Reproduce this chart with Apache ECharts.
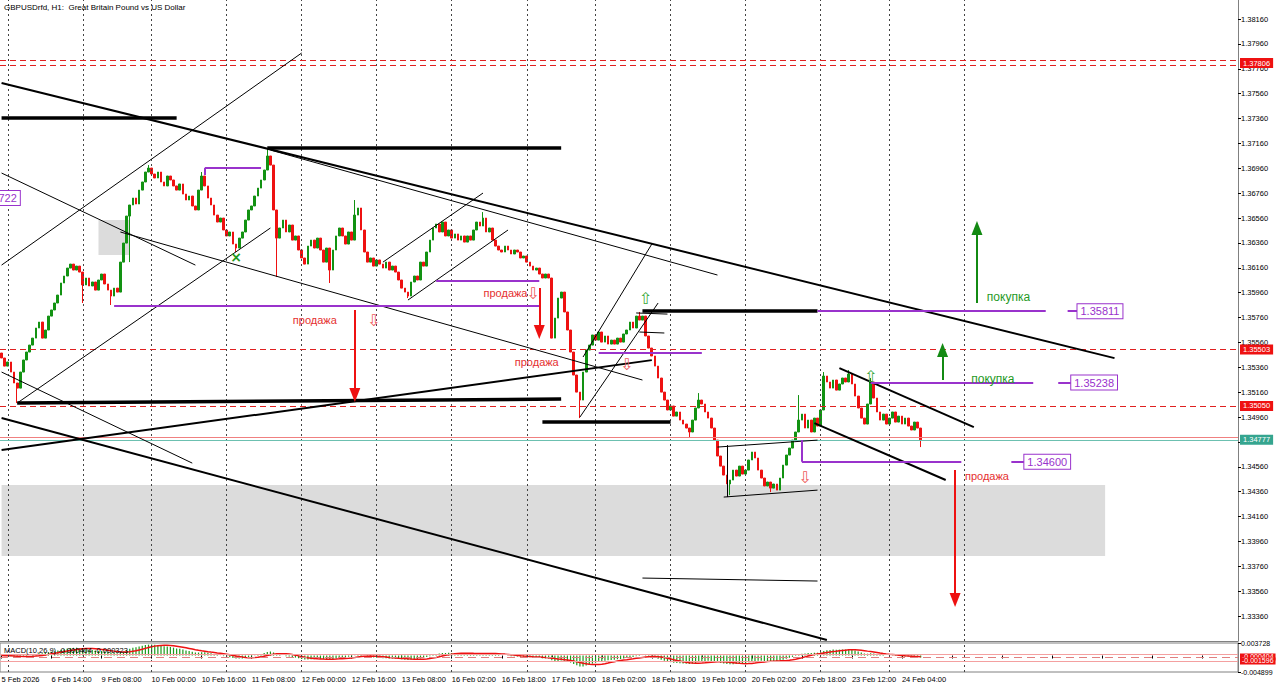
<!DOCTYPE html>
<html><head><meta charset="utf-8">
<script src="https://cdn.jsdelivr.net/npm/echarts@6/dist/echarts.min.js"></script>
<style>html,body{margin:0;padding:0;background:#fff}#c{width:1280px;height:688px}</style>
</head><body><div id="c"></div>
<script>
// ---------- text ----------
const titleText = 'GBPUSDrfd, H1:  Great Britain Pound vs US Dollar';
const macdTitle = 'MACD(10,26,9) -0.000404 -0.000323';
const firstLabel = '5 Feb 2026';
const monthNames = ['Jan','Feb','Mar','Apr','May','Jun','Jul','Aug','Sep','Oct','Nov','Dec'];
const sellText = 'продажа';
const buyText = 'покупка';

// ---------- price data (H1 closes) ----------
const firstOpen = 1.35475;
const closes = [
1.35435,1.35370,1.35403,1.35322,1.35234,1.35193,1.35322,1.35419,1.35483,1.35539,
1.35595,1.35676,1.35724,1.35595,1.35660,1.35772,1.35821,1.35877,1.35941,1.36038,
1.36094,1.36158,1.36190,1.36142,1.36174,1.36126,1.36022,1.36078,1.36014,1.36046,
1.35981,1.36062,1.36110,1.36030,1.35981,1.35933,1.35997,1.35965,1.36206,1.36359,
1.36576,1.36665,1.36721,1.36673,1.36785,1.36850,1.36930,1.36962,1.36914,1.36882,
1.36930,1.36850,1.36818,1.36898,1.36866,1.36818,1.36785,1.36834,1.36753,1.36705,
1.36737,1.36657,1.36625,1.36785,1.36898,1.36818,1.36721,1.36665,1.36584,1.36528,
1.36560,1.36464,1.36416,1.36448,1.36351,1.36319,1.36399,1.36448,1.36544,1.36625,
1.36657,1.36737,1.36801,1.36866,1.36946,1.37059,1.36986,1.36625,1.36399,1.36480,
1.36544,1.36448,1.36504,1.36383,1.36416,1.36303,1.36239,1.36190,1.36335,1.36383,
1.36319,1.36399,1.36303,1.36206,1.36319,1.36142,1.36303,1.36416,1.36480,1.36416,
1.36351,1.36448,1.36383,1.36584,1.36641,1.36464,1.36287,1.36206,1.36239,1.36174,
1.36223,1.36190,1.36158,1.36206,1.36142,1.36174,1.36126,1.36062,1.35997,1.35965,
1.35933,1.36046,1.36094,1.36062,1.36206,1.36174,1.36287,1.36383,1.36480,1.36512,
1.36448,1.36528,1.36416,1.36464,1.36399,1.36432,1.36383,1.36416,1.36367,1.36416,
1.36383,1.36464,1.36528,1.36496,1.36560,1.36448,1.36480,1.36383,1.36335,1.36303,
1.36287,1.36335,1.36303,1.36271,1.36303,1.36287,1.36239,1.36255,1.36206,1.36174,
1.36142,1.36158,1.36110,1.36078,1.36110,1.36078,1.35595,1.35756,1.35917,1.35965,
1.35805,1.35660,1.35483,1.35298,1.35161,1.35097,1.35322,1.35499,1.35539,1.35620,
1.35579,1.35644,1.35563,1.35612,1.35547,1.35579,1.35547,1.35595,1.35563,1.35628,
1.35660,1.35724,1.35676,1.35772,1.35740,1.35772,1.35612,1.35515,1.35451,1.35370,
1.35274,1.35161,1.35097,1.35017,1.35049,1.34968,1.35001,1.34936,1.34904,1.34872,
1.34840,1.34936,1.35033,1.35097,1.35065,1.35001,1.34952,1.34872,1.34775,1.34647,
1.34566,1.34494,1.34422,1.34454,1.34534,1.34486,1.34566,1.34502,1.34534,1.34615,
1.34679,1.34631,1.34534,1.34470,1.34406,1.34438,1.34389,1.34422,1.34373,1.34470,
1.34574,1.34655,1.34711,1.34775,1.34840,1.34936,1.34984,1.34872,1.34936,1.34840,
1.34952,1.34888,1.35017,1.35290,1.35242,1.35193,1.35258,1.35177,1.35226,1.35274,
1.35242,1.35306,1.35226,1.35129,1.35033,1.34952,1.34904,1.35065,1.35242,1.35113,
1.35001,1.34936,1.34984,1.34904,1.34952,1.35001,1.34920,1.34968,1.34904,1.34952,
1.34888,1.34856,1.34920,1.34872,1.34777
];
// notable wicks (bar index -> price)
const highWicks = {47:1.36986, 64:1.36930, 85:1.37123, 113:1.36705, 154:1.36608, 204:1.35805, 223:1.35153, 255:1.35137, 263:1.35322, 271:1.35338, 278:1.35274};
const lowWicks = {5:1.35073, 26:1.35877, 35:1.35861, 41:1.36206, 75:1.36287, 88:1.36086, 105:1.36038, 130:1.35917, 185:1.34952, 220:1.34800, 233:1.34333, 246:1.34357, 294:1.34719};

// ---------- axes ----------
const totalSlots = 396;            // bars + empty chart shift on the right
const priceMin = 1.33160, priceMax = 1.38313, priceStep = 0.002;
const macdMin = -0.004899, macdMax = 0.003728;
const gridBars = [2, 26, 48, 72, 96, 120, 144, 168, 190, 214, 238, 262, 284, 308];

// ---------- horizontal levels ----------
const redLevels = [
  {v:1.37826, label:null}, {v:1.37786, label:null}, {v:1.37806, label:'1.37806', hidden:true},
  {v:1.35503, label:'1.35503'}, {v:1.35050, label:'1.35050'}
];
const askLevel = 1.34800;
const bidLevel = 1.34777;
const macdLevels = [{v:0.000456, label:null, dash:false}, {v:-0.000404, label:'-0.000404', dash:true}, {v:-0.001596, label:'-0.001596', dash:false}];

// ---------- drawn objects (bar index, price) ----------
const thickLines = [
  [[0,1.37364],[56,1.37364]], [[85,1.37123],[179,1.37123]], [[5,1.35073],[179,1.35105]],
  [[173,1.34920],[214,1.34920]], [[205,1.35812],[261,1.35812]]
];
const mediumLines = [
  [[0,1.37646],[356,1.35434]], [[0,1.34695],[208,1.35418]], [[0,1.34952],[264,1.33168]],
  [[268,1.35354],[311,1.34880]], [[260,1.34912],[302,1.34454]]
];
const thinLines = [
  [[86,1.37107],[229,1.36102]], [[0,1.36182],[96,1.37887]], [[5,1.35073],[86,1.36480]],
  [[0,1.36922],[62,1.36182]], [[38,1.36448],[205,1.35258]], [[0,1.35322],[61,1.34590]],
  [[122,1.36206],[154,1.36761]], [[130,1.35901],[162,1.36464]], [[186,1.35443],[208,1.36351]],
  [[185,1.34960],[210,1.35877]], [[203,1.35797],[213,1.35788]], [[204,1.35644],[212,1.35636]],
  [[229,1.34719],[261,1.34775]], [[231,1.34317],[261,1.34373]], [[232,1.34735],[232,1.34317]],
  [[205,1.33666],[261,1.33642]]
];
const purpleLines = [
  [[65,1.36962],[83,1.36962]], [[65,1.36962],[65,1.36906]], [[36,1.35853],[172,1.35853]],
  [[139,1.36054],[172,1.36054]], [[191,1.35475],[224,1.35475]], [[261,1.35811],[334,1.35811]],
  [[341,1.35811],[344,1.35811]], [[278,1.35238],[330,1.35238]], [[338,1.35238],[342,1.35238]],
  [[256,1.34775],[256,1.34600]], [[256,1.34600],[307,1.34600]], [[323,1.34600],[327,1.34600]]
];
const priceBoxes = [[344,1.35811,'1.35811'],[342,1.35238,'1.35238'],[327,1.34600,'1.34600']];
const cutBox = [6,1.36721,'1.36722'];
const sellArrows = [[[113,1.35821],[113,1.35137]], [[172,1.35998],[172,1.35644]], [[305,1.34534],[305,1.33489]]];
const buyArrows = [[[312,1.35877],[312,1.36480]], [[301,1.35258],[301,1.35499]]];
const sellLabels = [[93,1.35740],[154,1.35957],[164,1.35403],[308,1.34486]];
const buyLabels = [[315,1.35925],[310,1.35266]];
const downMarks = [[119,1.35740],[170,1.35957],[200,1.35386],[257,1.34478]];
const upMarks = [[206,1.35917],[278,1.35290]];
const crossMark = [75,1.36247];
const grayZones = [[[0,1.34414],[353,1.33843]], [[31,1.36544],[41,1.36263]]];

// ---------- build ----------
const pad = n => (n < 10 ? '0' : '') + n;
const categories = [];
{
  let t = Date.UTC(2026, 1, 5, 22);
  while (categories.length < totalSlots) {
    const d = new Date(t), wd = d.getUTCDay(), h = d.getUTCHours();
    if ((wd >= 1 && wd <= 4) || (wd === 5 && h <= 21)) {
      categories.push(d.getUTCDate() + ' ' + monthNames[d.getUTCMonth()] + ' ' + pad(h) + ':00');
    }
    t += 3600000;
  }
}
const lastBar = closes.length - 1;
const ohlc = closes.map((c, i) => {
  const o = i ? closes[i - 1] : firstOpen;
  const h = highWicks[i] !== undefined ? highWicks[i] : Math.max(o, c);
  const l = lowWicks[i] !== undefined ? lowWicks[i] : Math.min(o, c);
  return [o, c, l, h];
});
// MACD(10,26,9) of the closes: EMA10 - EMA26, signal = SMA9
function ema(arr, n) { const k = 2 / (n + 1); let e = arr[0]; return arr.map((v, i) => (e = i ? v * k + e * (1 - k) : v)); }
const e10 = ema(closes, 10), e26 = ema(closes, 26);
const macdMain = closes.map((_, i) => e10[i] - e26[i]);
const macdSignal = macdMain.map((_, i) => { const s = Math.max(0, i - 8); const w = macdMain.slice(s, i + 1); return w.reduce((a, b) => a + b, 0) / w.length; });

const FONT = 'Liberation Sans';
const segs = (list, style) => list.map(([a, b]) => [{coord: a, lineStyle: style}, {coord: b}]);
const arrows = (list, color) => list.map(([a, b]) => [{coord: a, lineStyle: {color, width: 2, type: 'solid'}}, {coord: b, symbol: 'triangle', symbolSize: [11, 14], itemStyle: {color}}]);
const textPt = (p, text, color, size, pos, extra) => ({
  coord: [p[0], p[1]], symbol: 'rect', symbolSize: 1, itemStyle: {color: 'rgba(0,0,0,0)'},
  label: Object.assign({show: true, formatter: text, color, fontSize: size, fontFamily: FONT, position: pos || 'right', distance: 0}, extra || {})
});

const levelLines = [];
redLevels.forEach(l => levelLines.push({
  yAxis: l.v,
  lineStyle: {color: l.hidden ? 'rgba(0,0,0,0)' : '#e02020', width: 1, type: [6, 4]},
  label: l.label ? {show: true, position: 'end', distance: 2, formatter: l.label, backgroundColor: '#ee1111', color: '#fff', fontSize: 7.5, fontFamily: FONT, padding: [1, 3, 1, 3]} : {show: false}
}));
levelLines.push({yAxis: askLevel, lineStyle: {color: '#f08080', width: 1, type: 'solid'}, label: {show: false}});
levelLines.push({yAxis: bidLevel, lineStyle: {color: '#6cc0b0', width: 1, type: 'solid'},
  label: {show: true, position: 'end', distance: 2, formatter: '1.34777', backgroundColor: '#35a58f', color: '#fff', fontSize: 7.5, fontFamily: FONT, padding: [1, 3, 1, 3]}});

const boxLabel = {backgroundColor: '#fff', borderColor: '#9932cc', borderWidth: 1, padding: [2, 3, 1, 3], color: '#9932cc', fontSize: 11};
const dotted = {color: '#444', width: 1, type: [2, 3]};

const option = {
  animation: false,
  backgroundColor: '#fff',
  title: [
    {text: titleText, left: 4, top: 3, padding: 0, textStyle: {fontSize: 8, fontWeight: 'normal', color: '#000', fontFamily: FONT}},
    {text: macdTitle, left: 4, top: 646, padding: 0, textStyle: {fontSize: 7.5, fontWeight: 'normal', color: '#000', fontFamily: FONT}}
  ],
  grid: [
    {left: 0, right: 42, top: 0, bottom: 47, containLabel: false, outerBoundsMode: 'none'},
    {left: 0, right: 42, top: 643, bottom: 16, containLabel: false, outerBoundsMode: 'none', show: true, borderColor: '#808080', borderWidth: 1}
  ],
  xAxis: [
    {type: 'category', gridIndex: 0, data: categories, boundaryGap: true,
     axisLine: {show: true, lineStyle: {color: '#808080'}}, axisTick: {show: false}, axisLabel: {show: false}, splitLine: {show: false}},
    {type: 'category', gridIndex: 1, data: categories, boundaryGap: true,
     axisLine: {show: false}, axisTick: {show: true, interval: 15, alignWithLabel: true, length: 3, lineStyle: {color: '#000'}},
     axisLabel: {show: true, interval: 15, align: 'left', fontSize: 7.5, color: '#000', fontFamily: FONT, margin: 3,
       formatter: (v, i) => (i === 0 ? firstLabel : (i > lastBar ? '' : v))},
     splitLine: {show: false}}
  ],
  yAxis: [
    {type: 'value', gridIndex: 0, position: 'right', min: priceMin, max: priceMax, interval: priceStep,
     axisLine: {show: true, lineStyle: {color: '#808080'}}, axisTick: {show: true, length: 3, lineStyle: {color: '#000'}},
     axisLabel: {fontSize: 7.5, color: '#000', fontFamily: FONT, margin: 3, showMinLabel: false, showMaxLabel: false, formatter: v => v.toFixed(5)},
     splitLine: {show: false}},
    {type: 'value', gridIndex: 1, position: 'right', min: macdMin, max: macdMax, interval: macdMax - macdMin,
     axisLine: {show: true, lineStyle: {color: '#808080'}}, axisTick: {show: true, length: 3, lineStyle: {color: '#000'}},
     axisLabel: {fontSize: 7, color: '#000', fontFamily: FONT, margin: 3, showMinLabel: true, showMaxLabel: true, formatter: v => v.toFixed(6)},
     splitLine: {show: false}}
  ],
  series: [
    // background: grey zones + dotted period lines + levels
    {type: 'line', xAxisIndex: 0, yAxisIndex: 0, data: [], z: 1, silent: true,
     markArea: {silent: true, itemStyle: {color: '#dcdcdc'}, data: grayZones.map(([a, b]) => [{coord: a}, {coord: b}])},
     markLine: {silent: true, symbol: ['none', 'none'], label: {show: false}, precision: 6,
       data: gridBars.map(b => ({xAxis: b, lineStyle: dotted})).concat(levelLines)}},
    {type: 'candlestick', name: 'GBPUSD', xAxisIndex: 0, yAxisIndex: 0, data: ohlc, barWidth: 2.2, z: 3,
     itemStyle: {color: '#129212', color0: '#ee1111', borderColor: '#129212', borderColor0: '#ee1111', borderWidth: 1}},
    // drawn objects
    {type: 'line', xAxisIndex: 0, yAxisIndex: 0, data: [], z: 4, silent: true,
     markLine: {silent: true, symbol: ['none', 'none'], label: {show: false}, precision: 6,
       data: [].concat(
         segs(thinLines, {color: '#000', width: 1, type: 'solid'}),
         segs(mediumLines, {color: '#000', width: 2, type: 'solid'}),
         segs(thickLines, {color: '#000', width: 3.5, type: 'solid'}),
         segs(purpleLines, {color: '#9932cc', width: 2, type: 'solid'}),
         arrows(sellArrows, '#ee1111'),
         arrows(buyArrows, '#138a13')
       )},
     markPoint: {silent: true, data: [].concat(
       sellLabels.map(p => textPt(p, sellText, '#e53030', 11)),
       buyLabels.map(p => textPt(p, buyText, '#1f9a1f', 12)),
       downMarks.map(p => textPt(p, '⇩', '#ee5a5a', 16, 'inside', {fontFamily: 'DejaVu Sans'})),
       upMarks.map(p => textPt(p, '⇧', '#3aa83a', 16, 'inside', {fontFamily: 'DejaVu Sans'})),
       [textPt(crossMark, '×', '#1f9a1f', 14, 'inside', {fontWeight: 'bold', fontFamily: 'DejaVu Sans'})],
       priceBoxes.map(b => textPt([b[0], b[1]], b[2], '#9932cc', 11, 'right', boxLabel)),
       [textPt([cutBox[0], cutBox[1]], cutBox[2], '#9932cc', 11, 'left', boxLabel)]
     )}},
    // MACD pane
    {type: 'bar', name: 'MACD', xAxisIndex: 1, yAxisIndex: 1, data: macdMain, barWidth: 1.2, z: 2,
     itemStyle: {color: '#1a9a1a'},
     markLine: {silent: true, symbol: ['none', 'none'], label: {show: false}, precision: 6,
       data: gridBars.map(b => ({xAxis: b, lineStyle: dotted})).concat(
         macdLevels.map(l => ({yAxis: l.v, lineStyle: {color: l.dash ? '#e08080' : '#f4a0a0', width: 1, type: l.dash ? [8, 5] : 'solid'},
           label: l.label ? {show: true, position: 'end', distance: 2, formatter: l.label, backgroundColor: '#ee1111', color: '#fff', fontSize: 7, fontFamily: FONT, padding: [0, 2, 0, 2]} : {show: false}})))}},
    {type: 'line', name: 'Signal', xAxisIndex: 1, yAxisIndex: 1, data: macdSignal, showSymbol: false, z: 3,
     lineStyle: {color: '#ee1111', width: 1.5}}
  ]
};
const chart = echarts.init(document.getElementById('c'), null, {renderer: 'svg', width: 1280, height: 688});
chart.setOption(option);
</script>
</body></html>
